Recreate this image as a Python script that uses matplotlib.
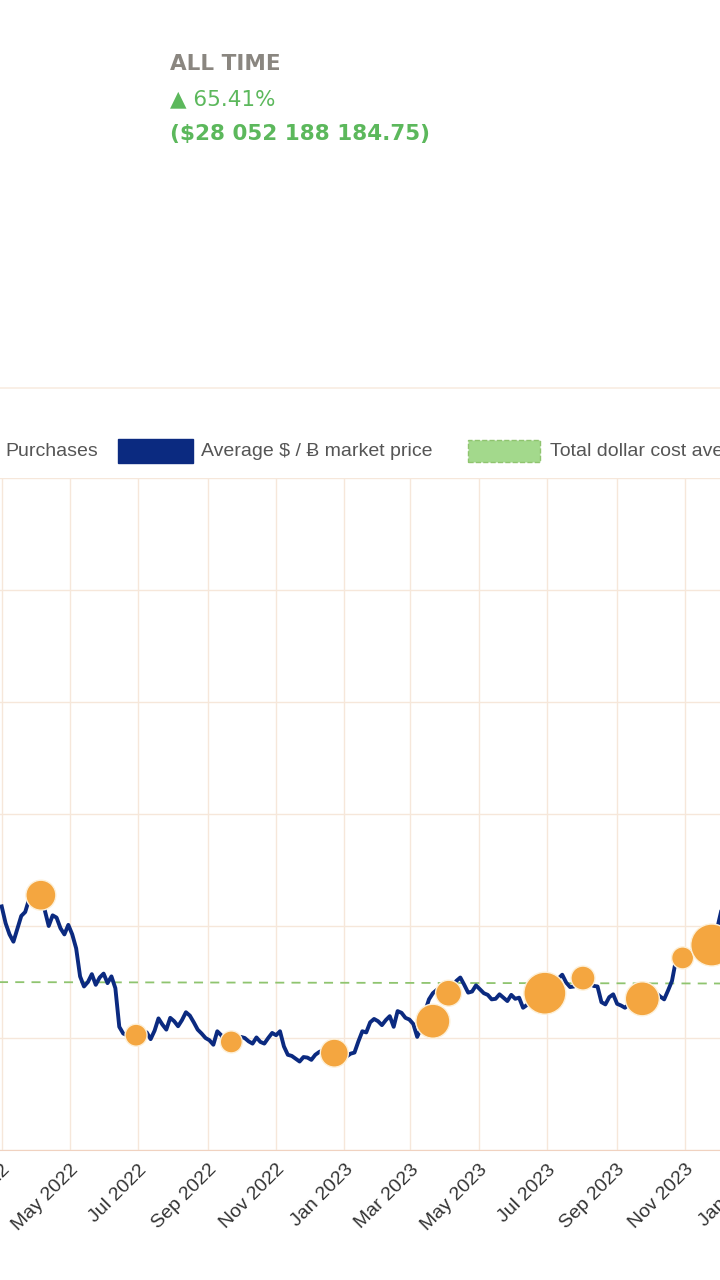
import numpy as np
import pandas as pd
import matplotlib
matplotlib.use("Agg")
import matplotlib.pyplot as plt
import matplotlib.dates as mdates
from matplotlib.patches import Rectangle

# --- data (values in thousand $) ---
price_start = "2022-03-01"
# weekly closes
price_k = [43.5, 38.5, 39.5, 42.5, 47.0, 46.0, 40.0, 41.5, 38.5, 38.5, 31.0, 30.0,
           29.5, 31.5, 31.0, 22.0, 20.5, 20.0, 20.2, 19.8, 23.5, 21.5, 23.0, 23.2,
           24.0, 21.5, 20.0, 18.8, 20.5, 19.0, 19.5, 20.0, 19.0, 19.3, 20.0, 20.5,
           18.5, 16.8, 15.8, 16.5, 17.0, 17.8, 16.8, 16.6, 16.7, 17.4, 21.2, 22.8,
           23.0, 23.2, 22.0, 24.5, 23.3, 20.2, 24.7, 28.0, 27.2, 28.2, 30.2, 29.5,
           28.3, 28.7, 27.7, 27.0, 27.2, 27.7, 27.2, 25.9, 28.3, 30.3, 31.0, 30.6,
           29.9, 29.2, 29.6, 29.8, 29.2, 26.0, 27.8, 25.8, 26.0, 27.2, 26.3, 27.5,
           27.4, 28.5, 33.9, 34.6, 35.3, 35.6, 36.0, 37.8, 44.0, 41.5, 42.5, 42.5]
# mid-week swings (between consecutive weekly closes)
mid_k = [40.5, 37.2, 41.8, 44.8, 46.5, 42.8, 41.9, 39.6, 40.2, 36.0, 29.2, 31.4,
         30.8, 29.8, 28.9, 20.8, 21.5, 19.2, 21.0, 21.3, 22.4, 23.6, 22.1, 24.6,
         22.8, 20.8, 19.6, 21.2, 19.3, 18.6, 20.2, 19.4, 20.1, 19.0, 20.9, 21.2,
         17.0, 16.3, 16.6, 16.1, 17.5, 18.1, 16.4, 16.9, 17.2, 19.4, 21.0, 23.4,
         22.3, 23.9, 24.8, 23.6, 22.5, 21.8, 26.9, 28.6, 27.9, 29.1, 30.8, 28.1,
         29.4, 28.0, 26.9, 27.8, 26.6, 27.0, 25.4, 26.8, 30.1, 29.7, 30.2, 31.3,
         29.1, 30.0, 29.0, 29.3, 26.4, 27.3, 26.1, 25.4, 26.8, 26.6, 27.1, 28.0,
         26.9, 30.2, 34.5, 35.0, 36.9, 37.5, 37.1, 41.0, 42.8, 43.2, 42.0]

buy_dates = ["2022-04-05", "2022-06-29", "2022-09-22", "2022-12-23", "2023-03-21",
             "2023-04-04", "2023-06-29", "2023-08-02", "2023-09-24", "2023-10-30",
             "2023-11-25"]
buy_price_k = [45.5, 20.5, 19.3, 17.3, 23.0, 28.0, 28.0, 30.7, 27.0, 34.3, 36.6]
buy_radius_px = [15, 11, 11, 14, 17, 13, 21, 12, 17, 11, 21]

dca_dates = ["2022-01-01", "2024-02-28"]
dca_k = [30.0, 29.7]

y_ticks_k = [0, 20, 40, 60, 80, 100, 120]

navy = "#0b2a80"
orange = "#f4a640"
green = "#8fc46f"
grid = "#f6e7da"

fig = plt.figure(figsize=(7.2, 12.8), dpi=100)
W, H = 720, 1280

# axes geometry: 1.12 px per day, May 1 2022 at x=70
x0 = pd.Timestamp("2022-01-01"); x1 = pd.Timestamp("2024-02-28")
ref = pd.Timestamp("2022-05-01")
left_px = 70 + (x0 - ref).days * 1.12
right_px = 70 + (x1 - ref).days * 1.12
ax = fig.add_axes([left_px / W, (H - 1150) / H, (right_px - left_px) / W, 672 / H])
ax.set_xlim(x0, x1)
ax.set_ylim(0, 120)

wk = pd.date_range(price_start, periods=len(price_k), freq="7D")
mid = wk[:-1] + pd.Timedelta(days=3.5)
series = pd.concat([pd.Series(price_k, index=wk), pd.Series(mid_k, index=mid)]).sort_index()
ax.plot(series.index, series.values, color=navy, lw=2.8, zorder=3)
ax.plot(pd.to_datetime(dca_dates), dca_k, color=green, lw=1.3, ls=(0, (5, 4)), zorder=2)
sizes = [(2 * r * 0.72) ** 2 for r in buy_radius_px]
ax.scatter(pd.to_datetime(buy_dates), buy_price_k, s=sizes, color=orange,
           edgecolor="#fdf0d8", linewidth=1.0, zorder=4)

ax.set_yticks(y_ticks_k)
ax.set_yticklabels([])
ax.xaxis.set_major_locator(mdates.MonthLocator(bymonth=[1, 3, 5, 7, 9, 11]))
ax.xaxis.set_major_formatter(mdates.DateFormatter("%b %Y"))
plt.setp(ax.get_xticklabels(), rotation=45, ha="right", rotation_mode="anchor",
         fontsize=14, color="#333333", family="Liberation Sans")
ax.tick_params(axis="x", length=0, pad=8)
ax.tick_params(axis="y", length=0)
ax.grid(True, color=grid, lw=1)
for s in ["top", "right", "left"]:
    ax.spines[s].set_visible(False)
ax.spines["bottom"].set_color("#f0d2c0")

# header
fig.text(170 / W, 1 - 64 / H, "ALL TIME", fontsize=15.5, fontweight="bold",
         color="#8a8680", va="center", family="DejaVu Sans")
fig.text(170 / W, 1 - 99 / H, "▲ 65.41%", fontsize=15.5, color="#5cb85c",
         va="center", family="DejaVu Sans")
fig.text(170 / W, 1 - 134 / H, "($28 052 188 184.75)", fontsize=15.5, fontweight="bold",
         color="#5cb85c", va="center", family="DejaVu Sans")
fig.add_artist(plt.Line2D([0, 1], [1 - 388 / H, 1 - 388 / H], color="#f8ece2", lw=1.2))

# legend
ly = 1 - 451 / H
fig.text(5 / W, ly, "Purchases", fontsize=14, color="#555555", va="center",
         family="Liberation Sans")
fig.add_artist(Rectangle((118 / W, 1 - 463 / H), 75 / W, 24 / H, color=navy))
fig.text(201 / W, ly, "Average $ / Ƀ market price", fontsize=14, color="#555555",
         va="center", family="Liberation Sans")
fig.add_artist(Rectangle((468 / W, 1 - 462 / H), 72 / W, 22 / H, facecolor="#a3d98c",
                         edgecolor="#8fc46f", ls="--", lw=1))
fig.text(550 / W, ly, "Total dollar cost average", fontsize=14, color="#555555",
         va="center", family="Liberation Sans")

fig.savefig("out.png", dpi=100)
